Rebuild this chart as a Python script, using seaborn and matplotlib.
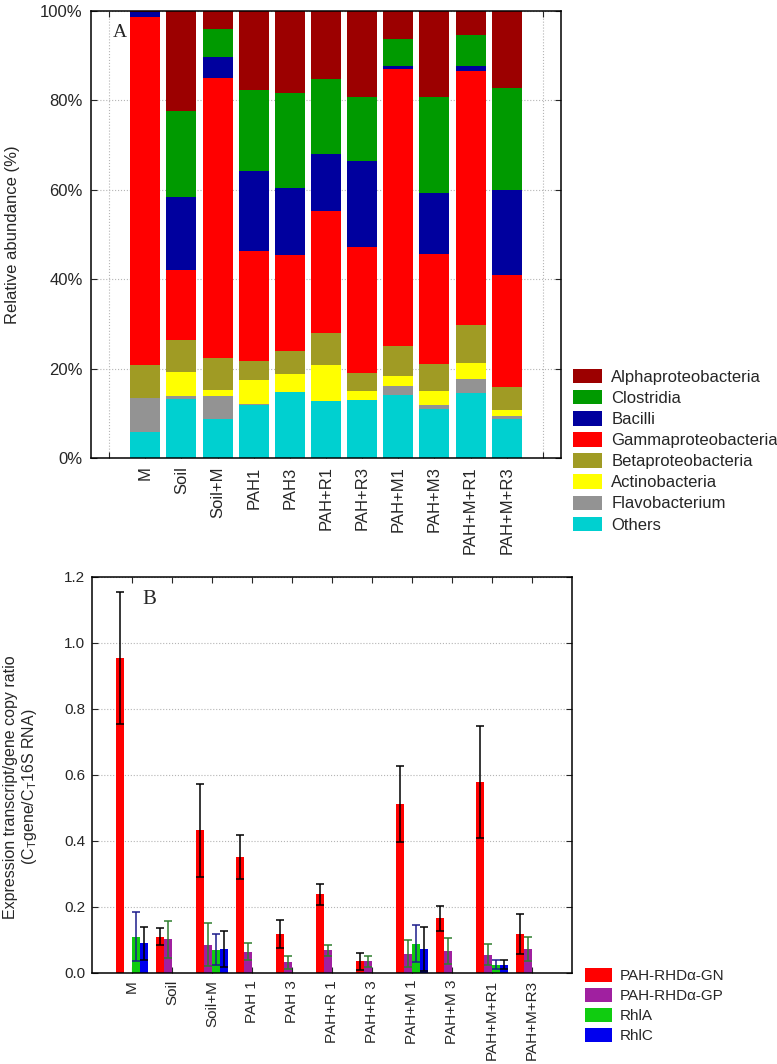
import numpy as np
import pandas as pd
import matplotlib
matplotlib.use('Agg')
import matplotlib.pyplot as plt
import seaborn as sns
from matplotlib.patches import Patch

# ---- datos panel A (abundancia relativa, %) ----
muestras = ['M', 'Soil', 'Soil+M', 'PAH1', 'PAH3', 'PAH+R1', 'PAH+R3',
            'PAH+M1', 'PAH+M3', 'PAH+M+R1', 'PAH+M+R3']
others = [5.9, 13.1, 8.7, 11.9, 14.7, 12.8, 13.0, 14.0, 10.9, 14.5, 8.7]
flavo = [7.6, 0.8, 5.2, 0.2, 0.0, 0.0, 0.0, 2.1, 0.9, 3.1, 0.7]
actino = [0.0, 5.3, 1.3, 5.3, 4.0, 8.1, 2.1, 2.2, 3.3, 3.7, 1.3]
beta = [7.3, 7.2, 7.1, 4.4, 5.3, 7.0, 4.0, 6.8, 5.9, 8.5, 5.2]
gamma = [77.8, 15.7, 62.8, 24.4, 21.5, 27.4, 28.2, 61.9, 24.6, 56.8, 25.0]
bacilli = [1.2, 16.4, 4.7, 17.9, 14.9, 12.6, 19.1, 0.8, 13.6, 1.2, 19.0]
clost = [0.0, 19.1, 6.2, 18.3, 21.3, 16.8, 14.4, 5.9, 21.6, 6.9, 22.9]
alpha = [0.2, 22.4, 4.0, 17.6, 18.3, 15.3, 19.2, 6.3, 19.2, 5.3, 17.2]

grupos = ['Others', 'Flavobacterium', 'Actinobacteria', 'Betaproteobacteria',
          'Gammaproteobacteria', 'Bacilli', 'Clostridia', 'Alphaproteobacteria']
colores_a = ['#00d0d0', '#939393', '#ffff00', '#a09b24',
             '#ff0000', '#00009e', '#009a00', '#9c0000']

# ---- datos panel B (expresion) ----
muestras_b = ['M', 'Soil', 'Soil+M', 'PAH 1', 'PAH 3', 'PAH+R 1', 'PAH+R 3',
              'PAH+M 1', 'PAH+M 3', 'PAH+M+R1', 'PAH+M+R3']
genes = ['PAH-RHDα-GN', 'PAH-RHDα-GP', 'RhlA', 'RhlC']
gn = [0.955, 0.110, 0.432, 0.352, 0.118, 0.238, 0.035, 0.512, 0.166, 0.578, 0.119]
gn_err = [0.200, 0.025, 0.142, 0.066, 0.042, 0.031, 0.026, 0.115, 0.038, 0.169, 0.061]
gp = [0.0, 0.102, 0.086, 0.065, 0.032, 0.069, 0.035, 0.059, 0.066, 0.056, 0.072]
gp_err = [0.0, 0.056, 0.065, 0.027, 0.019, 0.016, 0.016, 0.042, 0.040, 0.032, 0.036]
rhla = [0.110, 0.0, 0.070, 0.0, 0.0, 0.0, 0.0, 0.089, 0.0, 0.025, 0.0]
rhla_err = [0.075, 0.0, 0.047, 0.0, 0.0, 0.0, 0.0, 0.056, 0.0, 0.014, 0.0]
rhlc = [0.090, 0.0, 0.073, 0.0, 0.0, 0.0, 0.0, 0.073, 0.0, 0.025, 0.0]
rhlc_err = [0.050, 0.0, 0.055, 0.0, 0.0, 0.0, 0.0, 0.067, 0.0, 0.014, 0.0]
colores_b = ['#ff0000', '#a020a0', '#10cc10', '#0000ee']
colores_err = ['black', '#2f7f2f', '#1c1c8c', 'black']

sns.set_style('ticks')
plt.rcParams['font.family'] = ['Liberation Sans', 'DejaVu Sans']
plt.rcParams['font.size'] = 12

fig = plt.figure(figsize=(7.77, 10.64), dpi=100)
axA = fig.add_axes([91/777, 1-458/1064, 470/777, 447/1064])
axB = fig.add_axes([92/777, 1-973/1064, 480/777, 396/1064])

# ---- panel A: barras apiladas (capas acumuladas, de arriba hacia abajo) ----
dfA = pd.DataFrame(dict(zip(grupos, [others, flavo, actino, beta, gamma, bacilli, clost, alpha])),
                   index=muestras)
acum = dfA.cumsum(axis=1)
for g, c in reversed(list(zip(grupos, colores_a))):
    sns.barplot(x=muestras, y=acum[g].values, color=c, width=0.83, saturation=1,
                linewidth=0, ax=axA, zorder=2)

axA.set_xlim(-1.5, 11.5)
axA.set_xticks(range(-1, 12))
axA.set_xticklabels([''] + muestras + [''], rotation=90)
axA.set_ylim(0, 100)
axA.set_yticks(range(0, 101, 20))
axA.set_yticklabels([f'{v}%' for v in range(0, 101, 20)])
axA.set_xlabel('')
axA.set_ylabel('')
axA.grid(True, linestyle=':', color='#b5b5b5', linewidth=0.8)
axA.set_axisbelow(True)
axA.tick_params(direction='in', top=True, right=True, length=4, labelsize=12, pad=6)
axA.text(0.047, 0.953, 'A', transform=axA.transAxes, fontsize=14,
         family='Liberation Serif', va='center', ha='left')

handles_a = [Patch(facecolor=c, edgecolor='none') for c in reversed(colores_a)]
fig.legend(handles_a, list(reversed(grupos)), loc='upper left',
           bbox_to_anchor=(573/777, 1-369/1064), frameon=False, fontsize=12,
           handlelength=1.75, handleheight=0.95, handletextpad=0.55,
           labelspacing=0.31, borderpad=0, borderaxespad=0)

fig.text(13/777, 1-235/1064, 'Relative abundance (%)', rotation=90,
         ha='center', va='center', fontsize=12)

# ---- panel B: barras agrupadas con error ----
dfB = pd.DataFrame({
    'muestra': muestras_b * 4,
    'gen': np.repeat(genes, len(muestras_b)),
    'valor': gn + gp + rhla + rhlc,
})
sns.barplot(data=dfB, x='muestra', y='valor', hue='gen', order=muestras_b, hue_order=genes,
            palette=colores_b, width=0.8, saturation=1, linewidth=0, errorbar=None,
            legend=False, ax=axB)

for cont, errs, ec in zip(axB.containers, [gn_err, gp_err, rhla_err, rhlc_err], colores_err):
    for bar, e in zip(cont, errs):
        if e > 0:
            xc = bar.get_x() + bar.get_width() / 2
            axB.errorbar(xc, bar.get_height(), yerr=e, fmt='none', ecolor=ec,
                         elinewidth=1.1, capsize=3, capthick=1.1, zorder=3)

axB.set_xlim(-1, 11)
axB.set_xticks(range(len(muestras_b)))
axB.set_xticklabels(muestras_b, rotation=90)
axB.set_ylim(0, 1.2)
axB.set_yticks(np.arange(0, 1.21, 0.2))
axB.set_yticklabels([f'{v:.1f}' for v in np.arange(0, 1.21, 0.2)])
axB.set_xlabel('')
axB.set_ylabel('')
axB.yaxis.grid(True, linestyle=':', color='#b5b5b5', linewidth=0.8)
axB.set_axisbelow(True)
axB.tick_params(direction='in', top=True, right=True, length=4, labelsize=11, pad=5)
axB.text(0.104, 0.942, 'B', transform=axB.transAxes, fontsize=15,
         family='Liberation Serif', va='center', ha='left')

handles_b = [Patch(facecolor=c, edgecolor='none') for c in colores_b]
fig.legend(handles_b, genes, loc='upper left',
           bbox_to_anchor=(585/777, 1-968/1064), frameon=False, fontsize=11,
           handlelength=1.75, handleheight=1.0, handletextpad=0.5,
           labelspacing=0.33, borderpad=0, borderaxespad=0)

fig.text(21/777, 1-787/1064,
         'Expression transcript/gene copy ratio\n(C$\\mathregular{_T}$gene/C$\\mathregular{_T}$16S RNA)',
         rotation=90, ha='center', va='center', multialignment='center', fontsize=11.5)

for ax in (axA, axB):
    for s in ax.spines.values():
        s.set_color('black')
        s.set_linewidth(1.1)

fig.savefig('out.png', dpi=100)
